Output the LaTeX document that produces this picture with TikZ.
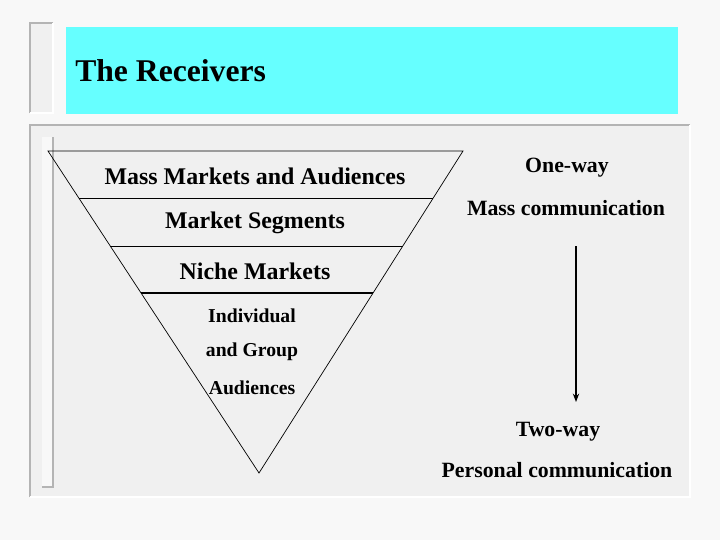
\documentclass[tikz,border=0pt]{standalone}
\usepackage{fontspec}
\setmainfont{Liberation Serif}
\usetikzlibrary{positioning, arrows.meta, calc}
\definecolor{pagebg}{HTML}{F8F8F8}
\definecolor{panelbg}{HTML}{F0F0F0}
\definecolor{edgegray}{HTML}{B4B4B4}
\definecolor{titlecyan}{HTML}{66FFFF}

\begin{document}
\begin{tikzpicture}[x=0.025cm, y=-0.025cm,
    level text/.style={font=\bfseries\fontsize{17}{20}\selectfont, inner sep=0pt},
    small text/.style={font=\bfseries\fontsize{14}{16}\selectfont, inner sep=0pt},
    side text/.style={font=\bfseries\fontsize{15.5}{18}\selectfont, inner sep=0pt}]
    % Page background
    \fill[pagebg] (0,0) rectangle (720,540);
    \useasboundingbox (0,0) rectangle (720,540);

    % Title bar
    \fill[panelbg] (30,23) rectangle (53,113);
    \draw[edgegray, line width=0.8pt] (30,113) -- (30,23) -- (53,23);
    \draw[white, line width=0.8pt] (53,23) -- (53,113) -- (30,113);
    \fill[titlecyan] (66,27) rectangle (678,114);
    \node[anchor=base west, font=\bfseries\fontsize{22.5}{26}\selectfont, inner sep=0pt] (title) at (75,81) {The Receivers};

    % Main panel
    \fill[panelbg] (30,125) rectangle (690,497);
    \draw[edgegray, line width=0.8pt] (30,497) -- (30,125) -- (690,125);
    \draw[white, line width=0.8pt] (690,125) -- (690,497) -- (30,497);
    \fill[pagebg] (42,137) rectangle (53,487);
    \draw[edgegray, line width=0.8pt] (53,137) -- (53,487) -- (42,487);

    % Funnel
    \coordinate (TL) at (48,151);
    \coordinate (TR) at (463,151);
    \coordinate (tip) at (259,473);
    \draw[line width=0.5pt] (TL) -- (TR) -- (tip) -- cycle;
    \foreach \t/\n/\w in {0.146/1/0.5pt, 0.295/2/0.5pt, 0.441/3/0.9pt}
        \draw[line width=\w] ($(TL)!\t!(tip)$) coordinate (L\n) -- ($(TR)!\t!(tip)$) coordinate (R\n);

    % Funnel labels
    \node[level text] (mass) at (255,176) {Mass Markets and Audiences};
    \node[level text] (segments) at (255,223) {Market Segments};
    \node[level text] (niche) at (255,271) {Niche Markets};
    \node[small text] (individual) at (252,316) {Individual};
    \node[small text] (group) at (252,352) {and Group};
    \node[small text] (audiences) at (252,388) {Audiences};

    % Communication scale
    \node[side text] (oneway) at (567,168) {One-way};
    \node[side text] (masscomm) at (566,208) {Mass communication};
    \node[side text] (twoway) at (558,432) {Two-way};
    \node[side text] (personal) at (557,470) {Personal communication};
    \coordinate (arrowtop) at (576,246);
    \coordinate (arrowend) at (576,402);
    \draw[line width=0.8pt, -{Stealth[length=6pt, width=4.5pt]}] (arrowtop) -- (arrowend);
\end{tikzpicture}
\end{document}
